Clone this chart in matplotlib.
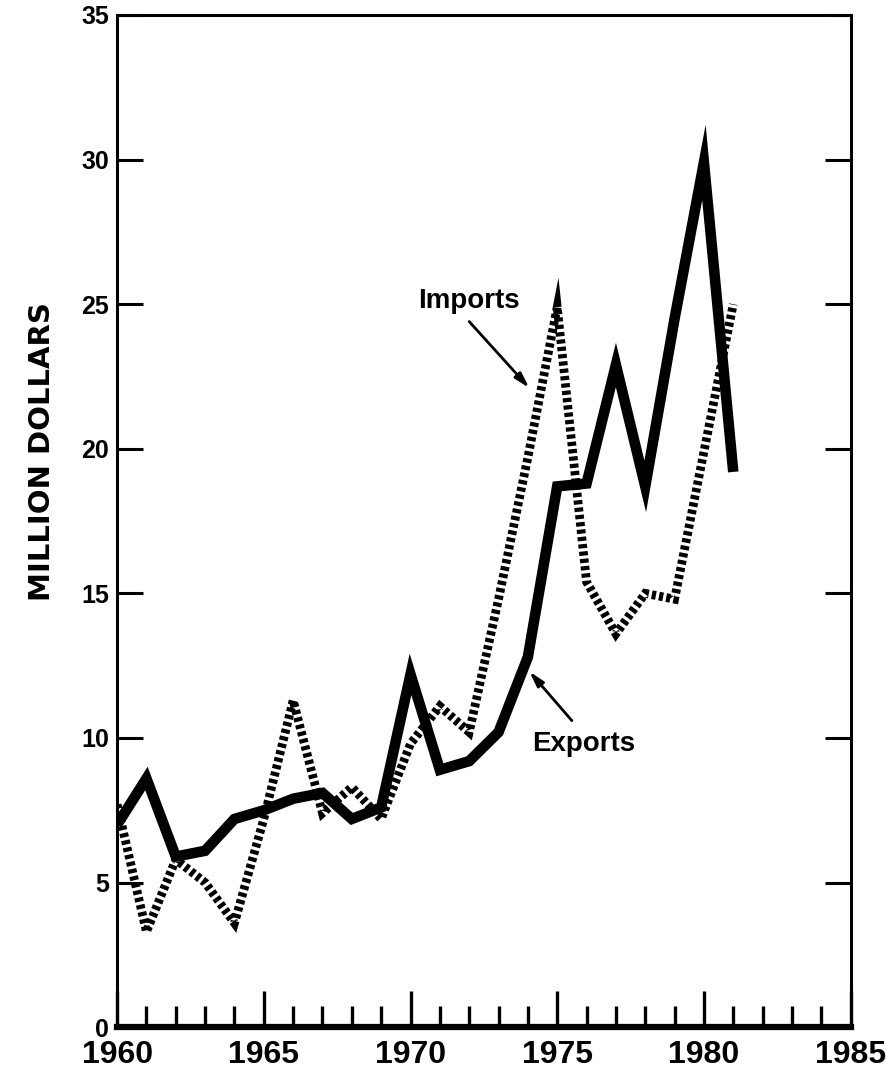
import matplotlib
matplotlib.use("Agg")
import matplotlib.pyplot as plt
from matplotlib.ticker import MultipleLocator

# Annual trade values, million dollars
years = list(range(1960, 1982))
exports = [7.0, 8.6, 5.9, 6.1, 7.2, 7.5, 7.9, 8.1, 7.2, 7.6, 12.2, 8.9,
           9.2, 10.2, 12.8, 18.7, 18.8, 22.9, 18.7, 24.5, 29.9, 19.2]
imports = [7.7, 3.3, 5.8, 5.0, 3.6, 7.2, 11.3, 7.4, 8.3, 7.2, 9.8, 11.1,
           10.2, 14.8, 19.7, 24.9, 15.4, 13.6, 15.0, 14.8, 19.9, 25.0]

y_ticks = [0, 5, 10, 15, 20, 25, 30, 35]
x_ticks = [1960, 1965, 1970, 1975, 1980, 1985]

bold_font = ["Liberation Sans", "DejaVu Sans"]

fig = plt.figure(figsize=(8.87, 10.7), dpi=100)
ax = fig.add_axes([0.132, 0.040, 0.827, 0.946])

ax.plot(years, exports, color="black", lw=7.6, solid_joinstyle="miter",
        solid_capstyle="butt", zorder=3)
ax.plot(years, imports, color="black", lw=6.3, linestyle=(0, (0.48, 0.36)),
        dash_capstyle="butt", dash_joinstyle="miter", zorder=2)

ax.set_xlim(1960, 1985)
ax.set_ylim(0, 35)
ax.set_xticks(x_ticks)
ax.xaxis.set_minor_locator(MultipleLocator(1))
ax.set_yticks(y_ticks)

ax.tick_params(axis="x", which="major", direction="in", length=26, width=2.4,
               pad=9, labelsize=23)
ax.tick_params(axis="x", which="minor", direction="in", length=15, width=2.4)
ax.tick_params(axis="y", which="major", direction="in", length=19, width=2.2,
               left=True, right=True, pad=6, labelsize=18)

for lbl in ax.get_xticklabels() + ax.get_yticklabels():
    lbl.set_fontfamily(bold_font)
    lbl.set_fontweight("bold")

for side in ["left", "right", "top"]:
    ax.spines[side].set_linewidth(2.2)
ax.spines["bottom"].set_linewidth(4.5)

fig.text(0.047, 0.578, "MILLION DOLLARS", rotation=90, ha="center",
         va="center", fontsize=21, fontweight="bold",
         family=["DejaVu Sans"])

arrow = dict(arrowstyle="-|>,head_length=0.9,head_width=0.25",
             color="black", lw=2.0, shrinkA=0, shrinkB=0)
ax.annotate("Imports", xy=(1974.0, 22.2), xytext=(1972.0, 24.65),
            fontsize=20, fontweight="bold", family=bold_font,
            ha="center", va="bottom")
ax.annotate("", xy=(1974.05, 22.1), xytext=(1972.0, 24.4), arrowprops=arrow)
ax.annotate("Exports", xy=(1974.05, 12.3), xytext=(1975.9, 9.35),
            fontsize=20, fontweight="bold", family=bold_font,
            ha="center", va="bottom")
ax.annotate("", xy=(1974.05, 12.3), xytext=(1975.5, 10.6), arrowprops=arrow)

fig.savefig("out.png", dpi=100, facecolor="white")
